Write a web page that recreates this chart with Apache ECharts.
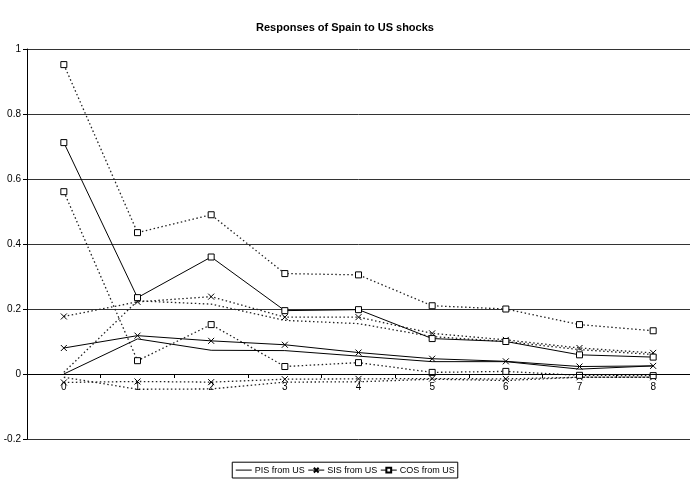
<!DOCTYPE html>
<html>
<head>
<meta charset="utf-8">
<script src="https://cdn.jsdelivr.net/npm/echarts@6/dist/echarts.min.js"></script>
<style>
  html, body { margin: 0; padding: 0; background: #fff; }
  #main { width: 690px; height: 483px; }
</style>
</head>
<body>
<div id="main"></div>
<script>
// horizons
var steps = ['0', '1', '2', '3', '4', '5', '6', '7', '8'];
// point responses
var pis = [0.0, 0.108, 0.073, 0.072, 0.055, 0.038, 0.038, 0.015, 0.025];
var sis = [0.08, 0.118, 0.102, 0.09, 0.066, 0.047, 0.039, 0.023, 0.025];
var cos = [0.712, 0.235, 0.36, 0.195, 0.198, 0.109, 0.1, 0.059, 0.052];
// confidence bands
var pisHi = [0.005, 0.225, 0.215, 0.165, 0.155, 0.115, 0.1, 0.075, 0.06];
var pisLo = [-0.01, -0.047, -0.046, -0.025, -0.024, -0.016, -0.02, -0.01, -0.01];
var sisHi = [0.177, 0.222, 0.238, 0.175, 0.175, 0.125, 0.105, 0.08, 0.065];
var sisLo = [-0.026, -0.023, -0.025, -0.016, -0.015, -0.014, -0.015, -0.01, -0.01];
var cosHi = [0.952, 0.435, 0.49, 0.309, 0.305, 0.21, 0.2, 0.152, 0.133];
var cosLo = [0.561, 0.041, 0.152, 0.023, 0.035, 0.005, 0.008, -0.004, -0.005];

var crossIcon = 'path://M0,0L10,10M0,10L10,0';
var dots = [1.5, 2.5];

function mk(name, data, symbol, dotted) {
    return {
        name: name,
        type: 'line',
        data: data,
        symbol: symbol || 'circle',
        symbolSize: 6,
        showSymbol: !!symbol,
        animation: false,
        z: dotted ? 2 : 3,
        lineStyle: { color: dotted ? '#222' : '#000', width: dotted ? 1.3 : 1, type: dotted ? dots : 'solid' },
        itemStyle: { color: symbol === 'rect' ? '#fff' : (symbol ? 'none' : '#000'), borderColor: '#000', borderWidth: symbol ? 1 : 0 },
        emphasis: { disabled: true }
    };
}

var myChart = echarts.init(document.getElementById('main'));
myChart.setOption({
    textStyle: { fontFamily: 'Liberation Sans, Arial, sans-serif', color: '#000' },
    title: {
        text: 'Responses of Spain to US shocks',
        left: 'center',
        top: 17,
        textStyle: { fontSize: 11, fontWeight: 'bold', color: '#000' }
    },
    legend: {
        data: [
            // PIS has no marker: hide the legend symbol, keep its line
            { name: 'PIS from US', itemStyle: { opacity: 0 } },
            'SIS from US',
            'COS from US'
        ],
        bottom: 5,
        left: 'center',
        borderColor: '#000',
        borderWidth: 1,
        padding: [3, 3],
        itemGap: 3,
        itemWidth: 16,
        itemHeight: 6,
        lineStyle: { width: 1 },
        textStyle: { fontSize: 9, color: '#000', padding: [0, 0, 0, -2] }
    },
    grid: { left: 27, right: 0, top: 49, bottom: 44 },
    xAxis: {
        type: 'category',
        data: steps,
        boundaryGap: true,
        // pull the axis up onto the zero line (grid height 390 -> zero is 65px above bottom)
        offset: -65,
        z: 10,
        axisLine: { onZero: false, lineStyle: { color: '#000', width: 1 } },
        axisTick: { show: true, length: 4, alignWithLabel: false, lineStyle: { color: '#000' } },
        axisLabel: { fontSize: 10, color: '#000', margin: 8, interval: 0 },
        splitLine: { show: false }
    },
    yAxis: {
        type: 'value',
        min: -0.2,
        max: 1,
        interval: 0.2,
        axisLine: { show: true, lineStyle: { color: '#000', width: 1 } },
        axisTick: { show: true, length: 4, lineStyle: { color: '#000' } },
        axisLabel: { fontSize: 10, color: '#000', margin: 6 },
        splitLine: { show: true, lineStyle: { color: '#333', width: 1 } }
    },
    series: [
        mk('PIS from US', pis, null, false),
        mk('SIS from US', sis, crossIcon, false),
        mk('COS from US', cos, 'rect', false),
        mk('PIS upper', pisHi, null, true),
        mk('PIS lower', pisLo, null, true),
        mk('SIS upper', sisHi, crossIcon, true),
        mk('SIS lower', sisLo, crossIcon, true),
        mk('COS upper', cosHi, 'rect', true),
        mk('COS lower', cosLo, 'rect', true)
    ]
});
</script>
</body>
</html>
